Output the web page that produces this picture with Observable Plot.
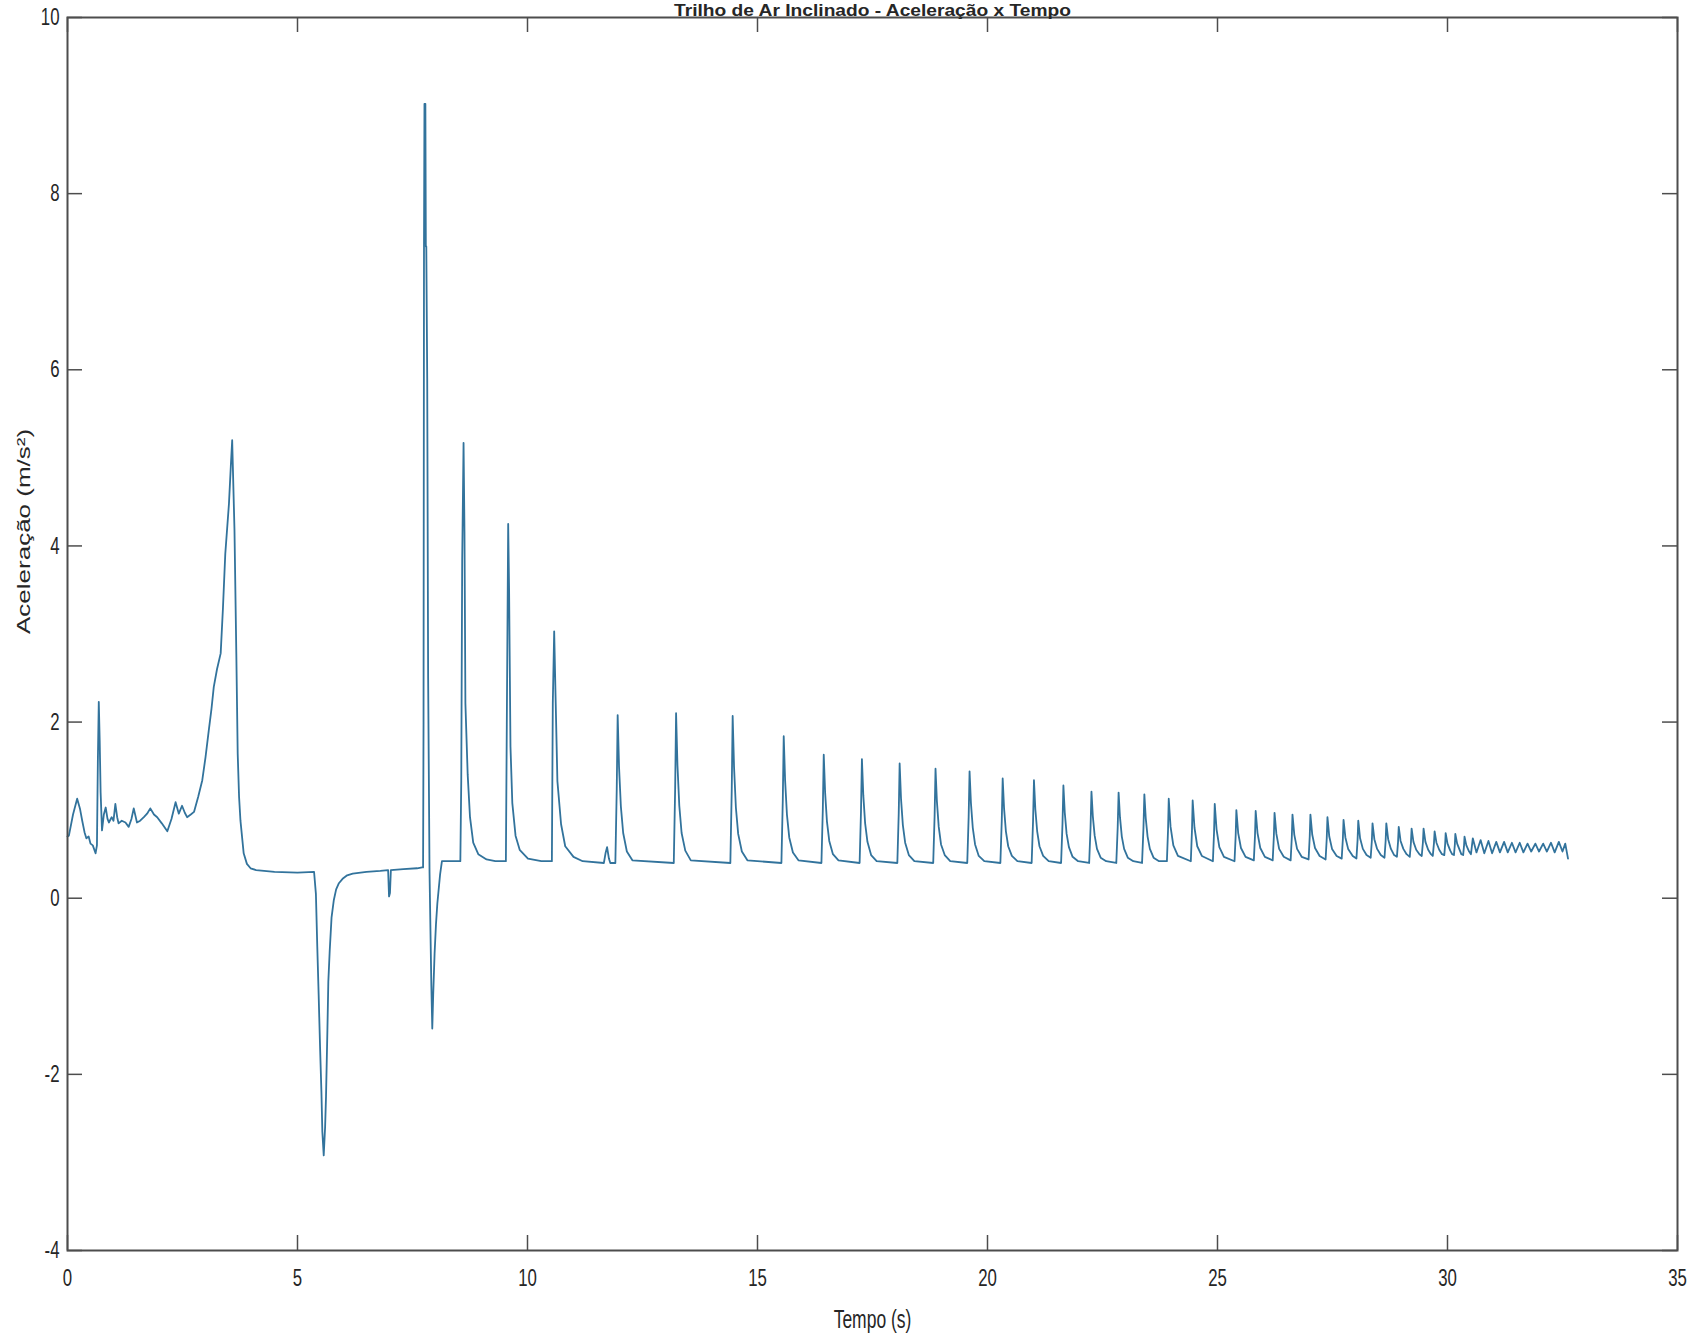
<!DOCTYPE html>
<html><head><meta charset="utf-8">
<script src="https://cdn.jsdelivr.net/npm/d3@7"></script>
<script src="https://cdn.jsdelivr.net/npm/@observablehq/plot@0.6"></script>
<style>body{margin:0;background:#fff;} svg{display:block}</style>
</head><body><div id="chart"></div>
<script>
const titulo = "Trilho de Ar Inclinado - Aceleração x Tempo";
const rotuloX = "Tempo (s)";
const rotuloY = "Aceleração (m/s²)";
const ticksX = [0, 5, 10, 15, 20, 25, 30, 35];
const ticksY = [-4, -2, 0, 2, 4, 6, 8, 10];

// [tempo (s), aceleração (m/s²)]
const inicio = [[0.00,0.70],[0.03,0.71],[0.12,0.95],[0.21,1.13],[0.27,1.02],[0.32,0.88],[0.37,0.75],[0.41,0.68],[0.46,0.70],[0.50,0.62],[0.55,0.60],[0.61,0.51],[0.64,0.60],[0.66,1.56],[0.68,2.23],[0.70,1.79],[0.72,1.20],[0.75,0.77],[0.79,0.95],[0.83,1.03],[0.87,0.90],[0.90,0.86],[0.96,0.92],[1.00,0.88],[1.04,1.07],[1.08,0.92],[1.11,0.85],[1.18,0.88],[1.26,0.86],[1.33,0.81],[1.39,0.90],[1.44,1.02],[1.51,0.86],[1.58,0.88],[1.66,0.92],[1.73,0.96],[1.80,1.02],[1.88,0.95],[1.95,0.92],[2.05,0.85],[2.17,0.76],[2.26,0.90],[2.35,1.09],[2.42,0.96],[2.49,1.05],[2.55,0.97],[2.60,0.92],[2.68,0.95],[2.75,0.98],[2.84,1.15],[2.93,1.34],[3.00,1.60],[3.07,1.90],[3.13,2.15],[3.18,2.40],[3.25,2.60],[3.33,2.78],[3.38,3.30],[3.43,3.91],[3.51,4.48],[3.55,4.90],[3.58,5.20],[3.63,4.18],[3.67,2.78],[3.70,1.64],[3.73,1.15],[3.76,0.88],[3.83,0.51],[3.90,0.39],[3.98,0.34],[4.10,0.32],[4.50,0.30],[5.00,0.29],[5.36,0.30]];

const queda = [[5.40,0.05],[5.43,-0.55],[5.46,-1.10],[5.49,-1.68],[5.52,-2.20],[5.54,-2.65],[5.57,-2.92],[5.60,-2.60],[5.62,-2.25],[5.65,-1.50],[5.67,-0.95],[5.70,-0.60],[5.74,-0.22],[5.79,-0.02],[5.84,0.10],[5.90,0.17],[5.98,0.22],[6.08,0.26],[6.20,0.28],[6.50,0.30],[6.80,0.31],[6.97,0.32],[6.99,0.02],[7.01,0.06],[7.03,0.32],[7.30,0.33],[7.60,0.34],[7.71,0.35]];

const impacto = [[7.73,0.35],[7.74,2.00],[7.75,7.40],[7.76,9.02],[7.78,9.02],[7.79,7.40],[7.80,7.40],[7.82,5.90],[7.84,2.50],[7.87,0.30],[7.91,-1.00],[7.93,-1.48],[7.95,-1.10],[7.98,-0.63],[8.01,-0.30],[8.04,-0.06],[8.10,0.27],[8.14,0.42],[8.30,0.42],[8.54,0.42],[8.56,1.33],[8.58,3.83],[8.61,5.17],[8.63,4.16],[8.65,2.21],[8.70,1.40],[8.75,0.92],[8.82,0.63],[8.93,0.50],[9.11,0.44],[9.30,0.42],[9.53,0.42],[9.55,1.97],[9.58,4.25],[9.60,3.50],[9.63,1.72],[9.67,1.08],[9.74,0.71],[9.83,0.55],[10.01,0.45],[10.30,0.42],[10.53,0.42],[10.55,2.21],[10.58,3.03],[10.61,2.29],[10.65,1.33],[10.73,0.84],[10.82,0.59],[11.00,0.47],[11.20,0.42],[11.66,0.40],[11.70,0.52],[11.73,0.58],[11.77,0.45],[11.80,0.40]];

const oscilacoes = [[11.91,0.40],[11.94,1.24],[11.96,2.08],[11.99,1.49],[12.03,1.04],[12.08,0.74],[12.16,0.53],[12.28,0.43],
[13.18,0.40],[13.21,1.25],[13.23,2.10],[13.26,1.51],[13.30,1.05],[13.35,0.74],[13.43,0.54],[13.55,0.43],
[14.41,0.40],[14.44,1.23],[14.46,2.07],[14.49,1.49],[14.53,1.03],[14.58,0.73],[14.66,0.53],[14.78,0.43],
[15.52,0.40],[15.55,1.12],[15.57,1.84],[15.60,1.34],[15.64,0.95],[15.69,0.69],[15.77,0.52],[15.89,0.43],
[16.39,0.40],[16.42,1.01],[16.44,1.63],[16.47,1.20],[16.51,0.87],[16.56,0.65],[16.64,0.50],[16.76,0.43],
[17.22,0.40],[17.25,0.99],[17.27,1.58],[17.30,1.17],[17.34,0.85],[17.39,0.64],[17.47,0.49],[17.59,0.42],
[18.04,0.40],[18.07,0.96],[18.09,1.53],[18.12,1.13],[18.16,0.83],[18.21,0.63],[18.29,0.49],[18.41,0.42],
[18.82,0.40],[18.85,0.93],[18.87,1.47],[18.90,1.10],[18.94,0.81],[18.99,0.61],[19.07,0.49],[19.19,0.42],
[19.56,0.40],[19.59,0.92],[19.61,1.44],[19.64,1.08],[19.68,0.80],[19.73,0.61],[19.81,0.48],[19.93,0.42],
[20.28,0.40],[20.31,0.88],[20.33,1.36],[20.36,1.02],[20.40,0.76],[20.45,0.59],[20.53,0.48],[20.65,0.42],
[20.96,0.40],[20.99,0.87],[21.01,1.34],[21.04,1.01],[21.08,0.76],[21.13,0.59],[21.21,0.48],[21.33,0.42],
[21.60,0.40],[21.63,0.84],[21.65,1.28],[21.68,0.97],[21.72,0.73],[21.77,0.58],[21.85,0.47],[21.97,0.42],
[22.21,0.40],[22.24,0.80],[22.26,1.21],[22.29,0.93],[22.33,0.71],[22.38,0.56],[22.46,0.46],[22.58,0.42],
[22.80,0.40],[22.83,0.80],[22.85,1.20],[22.88,0.92],[22.92,0.70],[22.97,0.56],[23.05,0.46],[23.17,0.42],
[23.36,0.40],[23.39,0.79],[23.41,1.18],[23.44,0.91],[23.48,0.70],[23.53,0.56],[23.61,0.46],[23.73,0.42]];

const amortecimento = [[23.90,0.42],[23.925,0.78],[23.94,1.13],[23.98,0.81],[24.04,0.60],[24.14,0.48],
[24.42,0.42],[24.445,0.77],[24.46,1.11],[24.50,0.80],[24.56,0.59],[24.66,0.48],
[24.90,0.42],[24.925,0.75],[24.94,1.07],[24.98,0.78],[25.04,0.58],[25.14,0.47],
[25.37,0.42],[25.395,0.71],[25.41,1.00],[25.45,0.74],[25.51,0.57],[25.61,0.47],
[25.79,0.43],[25.815,0.71],[25.83,0.99],[25.87,0.74],[25.93,0.57],[26.03,0.47],
[26.20,0.43],[26.225,0.70],[26.24,0.97],[26.28,0.73],[26.34,0.56],[26.44,0.47],
[26.59,0.43],[26.615,0.69],[26.63,0.95],[26.67,0.72],[26.73,0.56],[26.83,0.47],
[26.98,0.44],[27.005,0.70],[27.02,0.95],[27.06,0.72],[27.12,0.57],[27.22,0.48],
[27.35,0.44],[27.375,0.68],[27.39,0.92],[27.43,0.70],[27.49,0.56],[27.59,0.48],
[27.70,0.45],[27.725,0.67],[27.74,0.89],[27.78,0.69],[27.84,0.56],[27.94,0.48],
[28.02,0.45],[28.045,0.66],[28.06,0.88],[28.10,0.68],[28.16,0.56],[28.24,0.49],
[28.33,0.46],[28.355,0.65],[28.37,0.85],[28.41,0.67],[28.47,0.56],[28.55,0.49],
[28.63,0.46],[28.655,0.65],[28.67,0.85],[28.71,0.67],[28.77,0.56],[28.84,0.49],
[28.90,0.47],[28.925,0.64],[28.94,0.81],[28.98,0.65],[29.04,0.56],[29.11,0.50],
[29.18,0.47],[29.205,0.63],[29.22,0.79],[29.26,0.64],[29.32,0.55],[29.39,0.50],
[29.44,0.48],[29.465,0.63],[29.48,0.79],[29.52,0.64],[29.58,0.55],[29.64,0.50],
[29.68,0.48],[29.705,0.62],[29.72,0.76],[29.76,0.63],[29.82,0.55],[29.88,0.50],
[29.93,0.49],[29.95,0.62],[29.96,0.74],[30.00,0.62],[30.06,0.54],[30.10,0.50],
[30.14,0.49],[30.16,0.61],[30.17,0.73],[30.21,0.62],[30.27,0.54],[30.30,0.50],
[30.34,0.49],[30.36,0.60],[30.37,0.70],[30.41,0.60],[30.47,0.53],
[30.51,0.50],[30.55,0.68],[30.63,0.52],[30.72,0.66],[30.80,0.51],[30.89,0.65],[30.97,0.51],[31.06,0.64],[31.14,0.52],[31.23,0.64],[31.31,0.52],[31.40,0.63],[31.48,0.52],[31.57,0.63],[31.65,0.52],[31.74,0.62],[31.82,0.53],[31.91,0.62],[31.99,0.53],[32.08,0.62],[32.16,0.53],[32.25,0.63],[32.33,0.52],[32.42,0.64],[32.50,0.53],[32.56,0.62],[32.62,0.45]];

const dados = [...inicio, ...queda, ...impacto, ...oscilacoes, ...amortecimento].map(([t, a]) => ({t, a}));

const W = 1701, H = 1340, mL = 67, mR = 24, mT = 17, mB = 90;
const fw = W - mL - mR, fh = H - mT - mB, tk = 15;
const eixo = "#4d4d4d";

const chart = Plot.plot({
  width: W, height: H,
  marginLeft: mL, marginRight: mR, marginTop: mT, marginBottom: mB,
  style: {fontFamily: "'Liberation Sans', Arial, sans-serif", fontSize: "24px", color: "#262626", background: "#fff"},
  x: {domain: [0, 35]},
  y: {domain: [-4, 10]},
  marks: [
    Plot.line(dados, {x: "t", y: "a", stroke: "#32739c", strokeWidth: 1.8, strokeLinejoin: "round"}),
    Plot.frame({stroke: eixo, strokeWidth: 2}),
    Plot.tickX(ticksX, {x: d => d, insetTop: fh - tk, stroke: eixo, strokeWidth: 1.5}),
    Plot.tickX(ticksX, {x: d => d, insetBottom: fh - tk, stroke: eixo, strokeWidth: 1.5}),
    Plot.tickY(ticksY, {y: d => d, insetRight: fw - tk, stroke: eixo, strokeWidth: 1.5}),
    Plot.tickY(ticksY, {y: d => d, insetLeft: fw - tk, stroke: eixo, strokeWidth: 1.5}),
    Plot.axisX({ticks: ticksX, tickSize: 0, tickPadding: 18, label: null, tickFormat: d => String(d), fontSize: 24}),
    Plot.axisY({ticks: ticksY, tickSize: 0, tickPadding: 8, label: null, tickFormat: d => String(d), fontSize: 24}),
    Plot.text([rotuloX], {text: d => d, frameAnchor: "bottom", dy: 60, lineAnchor: "top", fontSize: 25}),
    Plot.text([rotuloY], {text: d => d, frameAnchor: "left", dx: -43, rotate: -90, lineAnchor: "middle", fontSize: 26}),
    Plot.text([titulo], {text: d => d, frameAnchor: "top", dy: -2, lineAnchor: "bottom", fontSize: 16, fontWeight: "bold", className: "titulo"})
  ]
});

// the reference image is horizontally compressed: condense text accordingly
d3.select(chart).selectAll("text").each(function() {
  const tr = this.getAttribute("transform") || "";
  const isTitle = this.closest(".titulo") != null;
  if (/rotate/.test(tr)) this.setAttribute("transform", tr + " scale(1,0.7)");
  else this.setAttribute("transform", tr + (isTitle ? " scale(1.2,1)" : " scale(0.7,1)"));
});

document.getElementById("chart").append(chart);
</script></body></html>
